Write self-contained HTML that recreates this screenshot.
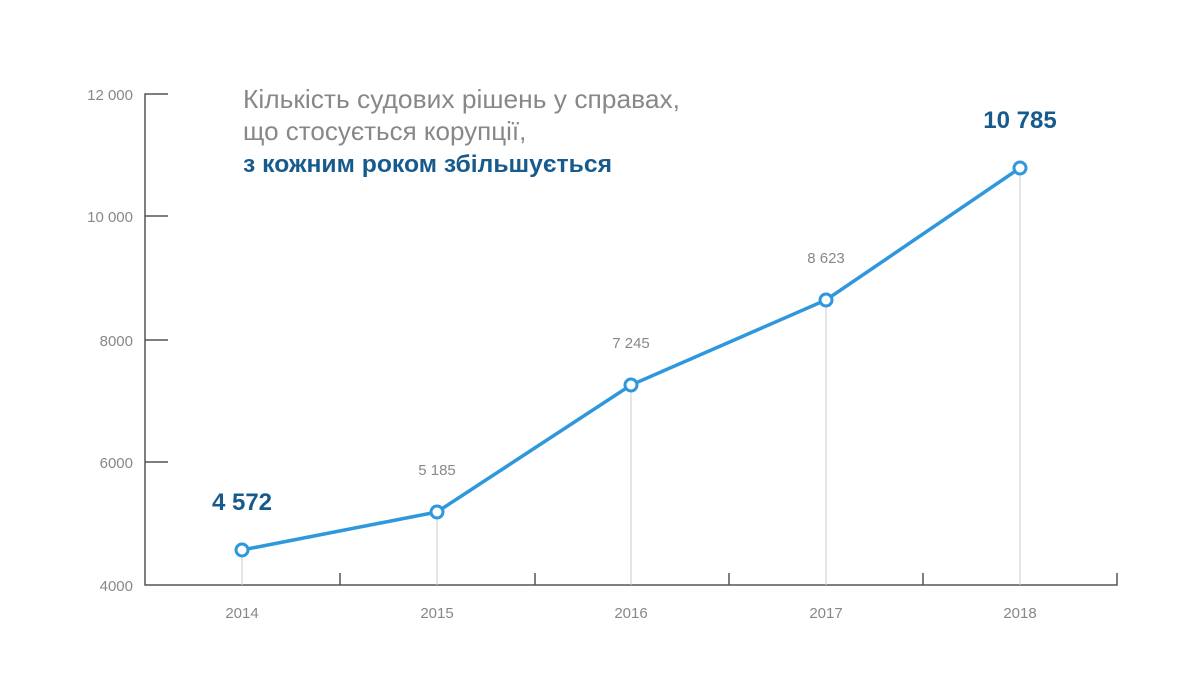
<!DOCTYPE html><html><head><meta charset="utf-8"><style>body{margin:0;background:#fff}svg{display:block}</style></head><body>
<svg width="1200" height="699" xmlns="http://www.w3.org/2000/svg" font-family="Liberation Sans, sans-serif">
<g stroke="#555" stroke-width="1.5" fill="none">
<path d="M168 94H145V585H1117V573"/>
<path d="M145 216H168M145 340H168M145 462H168"/>
<path d="M340 585V573M535 585V573M729 585V573M923 585V573"/>
</g>
<g stroke="#ccc" stroke-width="1">
<path d="M242 550V585M437 512V585M631 385V585M826 300V585M1020 168V585"/>
</g>
<g fill="#888" font-size="15" text-anchor="end">
<text x="133" y="100">12 000</text><text x="133" y="222">10 000</text><text x="133" y="346">8000</text><text x="133" y="468">6000</text><text x="133" y="591">4000</text>
</g>
<g fill="#888" font-size="15" text-anchor="middle">
<text x="242" y="618">2014</text><text x="437" y="618">2015</text><text x="631" y="618">2016</text><text x="826" y="618">2017</text><text x="1020" y="618">2018</text>
<text x="437" y="475">5 185</text><text x="631" y="348">7 245</text><text x="826" y="263">8 623</text>
</g>
<g fill="#175b8d" font-size="24" font-weight="bold" text-anchor="middle">
<text x="242" y="510">4 572</text><text x="1020" y="128">10 785</text>
</g>
<polyline points="242,550 437,512 631,385 826,300 1020,168" fill="none" stroke="#2f98dc" stroke-width="3.5"/>
<g fill="#fff" stroke="#2f98dc" stroke-width="3">
<circle cx="242" cy="550" r="6"/><circle cx="437" cy="512" r="6"/><circle cx="631" cy="385" r="6"/><circle cx="826" cy="300" r="6"/><circle cx="1020" cy="168" r="6"/>
</g>
<g>
<text x="243" y="108" fill="#888" font-size="26" textLength="437" lengthAdjust="spacingAndGlyphs">Кількість судових рішень у справах,</text>
<text x="243" y="140" fill="#888" font-size="26">що стосується корупції,</text>
<text x="243" y="172" fill="#175b8d" font-size="24.5" font-weight="bold" textLength="369" lengthAdjust="spacingAndGlyphs">з кожним роком збільшується</text>
</g>
</svg></body></html>
